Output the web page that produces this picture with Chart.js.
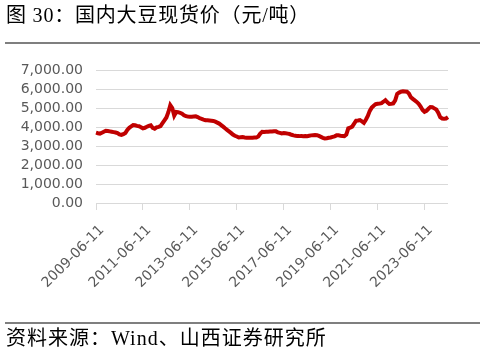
<!DOCTYPE html>
<html><head><meta charset="utf-8">
<script src="https://cdn.jsdelivr.net/npm/chart.js@4/dist/chart.umd.min.js"></script>
<style>
html,body{margin:0;padding:0;background:#fff;}
#wrap{position:relative;width:486px;height:353px;overflow:hidden;}
#c{position:absolute;left:0;top:0;}
.t{position:absolute;left:6px;font-family:"Liberation Serif","Noto Sans CJK SC",serif;font-size:20px;line-height:24px;color:#000;white-space:nowrap;}
.rule{position:absolute;left:5px;width:475px;height:2px;background:#7f7f7f;}
</style></head>
<body><div id="wrap">
<canvas id="c" width="486" height="353"></canvas>
<div class="t" style="top:3px;letter-spacing:0.8px;">图 30：国内大豆现货价（元/吨）</div>
<div class="rule" style="top:42px;"></div>
<div class="rule" style="top:322px;"></div>
<div class="t" style="top:326px;letter-spacing:1px;">资料来源：Wind、山西证券研究所</div>
</div>
<script>
const startYear = 2009, startMonth = 6;
const priceValues = [
3700,3670,3650,3700,3750,3800,3790,3770,3750,3730,3710,3680,3610,3580,3620,3680,3850,3960,4030,4100,
4090,4060,4040,3990,3930,3960,4010,4060,4090,3950,3910,3980,4010,4050,4200,4350,4500,4780,5150,5000,
4600,4790,4780,4750,4700,4620,4570,4550,4540,4540,4550,4560,4520,4460,4430,4390,4360,4350,4340,4330,
4320,4280,4230,4180,4100,4020,3930,3850,3770,3690,3600,3540,3500,3450,3460,3470,3450,3440,3430,3430,
3440,3450,3450,3500,3650,3750,3740,3750,3750,3760,3760,3770,3770,3720,3690,3660,3680,3670,3650,3630,
3590,3560,3540,3520,3520,3530,3520,3530,3520,3540,3560,3570,3580,3570,3530,3480,3430,3400,3410,3430,
3450,3480,3510,3560,3560,3540,3530,3520,3600,3930,3970,4020,4180,4330,4340,4360,4300,4220,4380,4580,
4850,5020,5120,5200,5220,5230,5260,5330,5410,5300,5210,5220,5240,5400,5740,5810,5860,5880,5870,5860,
5760,5570,5480,5400,5320,5220,5080,4900,4800,4850,4960,5050,5040,4980,4920,4750,4520,4450,4440,4450,
4520];
const dateLabels = priceValues.map((v,i)=>{
  const m0 = startMonth - 1 + i;
  const y = startYear + Math.floor(m0/12);
  const m = (m0 % 12) + 1;
  return y + '-' + String(m).padStart(2,'0') + '-11';
});
const yTicks = [0,1000,2000,3000,4000,5000,6000,7000];
const labelEvery = 24;

new Chart(document.getElementById('c'), {
  type: 'line',
  data: { labels: dateLabels, datasets: [{ data: priceValues, borderColor: '#C00000', borderWidth: 4, pointRadius: 0, tension: 0, fill: false }] },
  options: {
    responsive: false, animation: false,
    layout: { padding: { left: 0, right: 38, top: 70, bottom: 0 } },
    plugins: { legend: { display: false }, tooltip: { enabled: false } },
    scales: {
      x: {
        type: 'category', offset: false,
        afterFit: s => { s.height = 150; },
        border: { display: false },
        grid: { drawOnChartArea: false, drawTicks: true, tickLength: 7, color: c => (c.index % labelEvery === 0 ? '#d9d9d9' : 'rgba(0,0,0,0)') },
        ticks: { autoSkip: false, maxRotation: 45, minRotation: 45, padding: 12, labelOffset: 6, color: '#595959',
          font: { family: 'DejaVu Sans', size: 14 },
          callback: function(v, i){ return i % labelEvery === 0 ? this.getLabelForValue(v) : ''; } }
      },
      y: {
        min: 0, max: 7000,
        afterFit: s => { s.width = 96; },
        afterBuildTicks: s => { s.ticks = yTicks.map(v => ({ value: v })); },
        border: { display: false },
        grid: { color: '#d9d9d9', lineWidth: 1, drawTicks: false },
        ticks: { autoSkip: false, padding: 13, color: '#595959', font: { family: 'DejaVu Sans', size: 14 },
          callback: v => v.toLocaleString('en-US', { minimumFractionDigits: 2, maximumFractionDigits: 2 }) }
      }
    }
  }
});
</script>
</body></html>
